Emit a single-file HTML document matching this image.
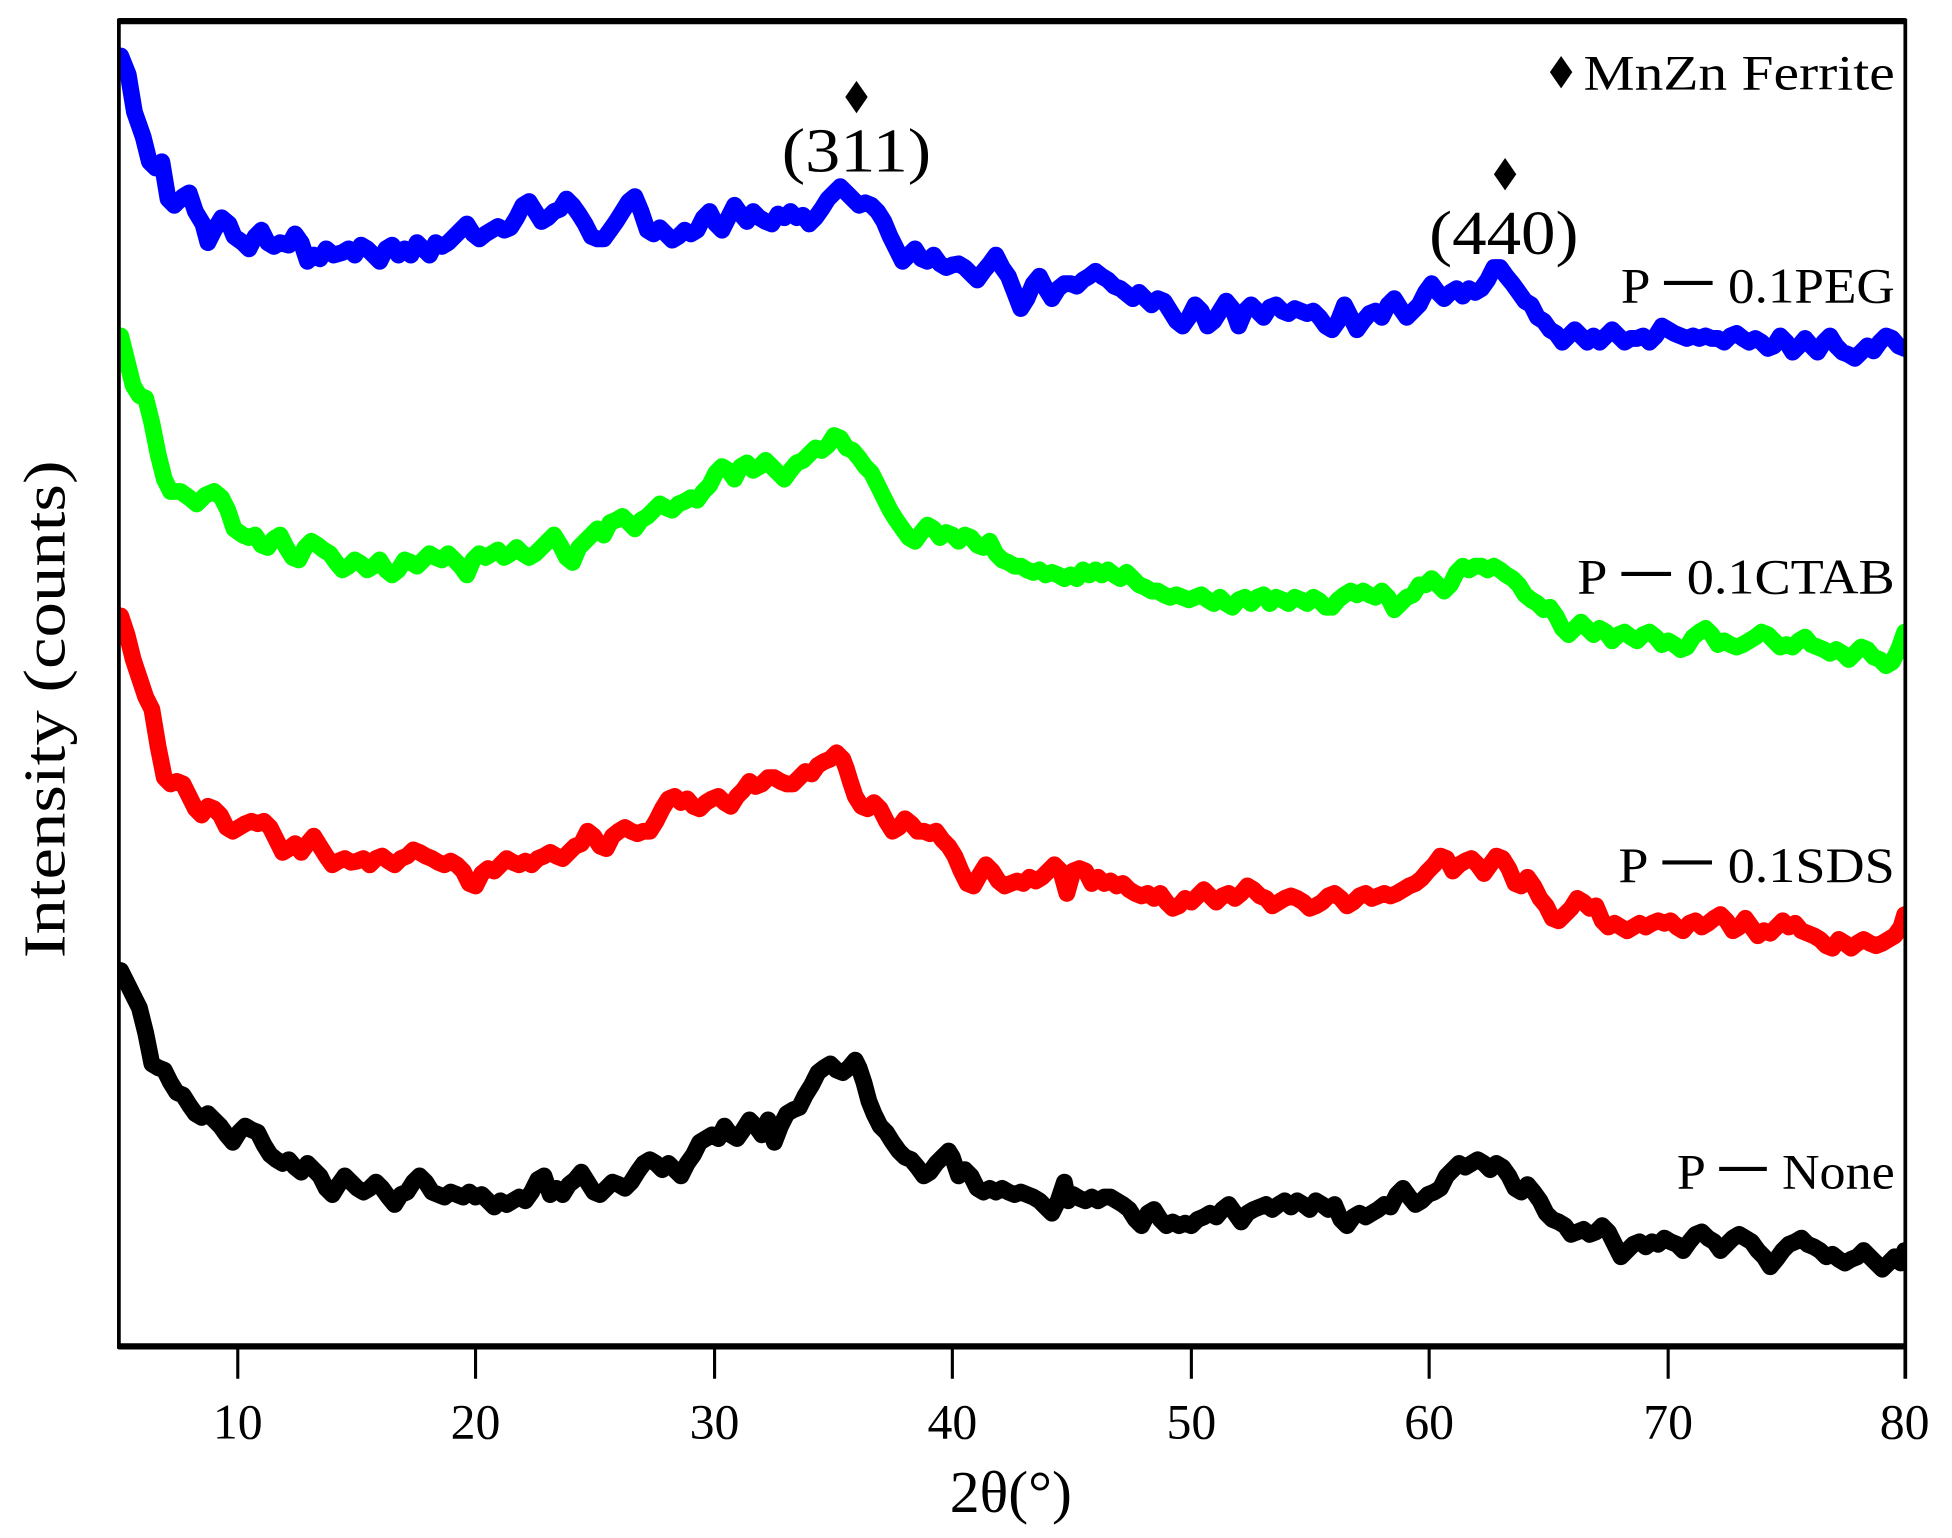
<!DOCTYPE html>
<html><head><meta charset="utf-8"><style>
html,body{margin:0;padding:0;background:#fff;}
svg{display:block;}
text{font-family:"Liberation Serif",serif;fill:#000;}
</style></head><body>
<svg width="1952" height="1538" viewBox="0 0 1568 1236" preserveAspectRatio="none" xmlns="http://www.w3.org/2000/svg">
<defs><clipPath id="c"><rect x="96" y="15" width="1434" height="1067"/></clipPath></defs>
<rect width="1568" height="1236" fill="#fff"/>
<g fill="none" stroke-width="13.5" stroke-linejoin="round" stroke-linecap="round" clip-path="url(#c)">
<polyline stroke="#0000ff" points="97,45 103,60 108,90 115,110 120,130 125,135 130,130 135,160 140,165 147,158 152,155 157,170 163,180 167,195 172,185 178,175 184,180 188,190 195,195 200,200 205,190 210,185 215,195 220,198 225,195 232,197 237,188 242,195 247,210 252,205 257,208 262,200 268,205 275,203 280,200 285,205 290,197 295,200 300,205 305,210 310,200 315,197 320,205 325,200 330,205 335,195 340,200 345,205 350,195 355,198 360,195 365,190 370,185 375,180 380,188 385,192 390,188 395,185 400,182 405,185 410,183 415,175 420,165 425,162 430,170 435,178 440,175 445,170 450,168 455,160 460,165 465,172 470,180 475,190 480,192 485,192 490,185 495,178 500,170 505,162 510,158 515,170 520,185 525,188 530,183 535,188 540,193 545,190 550,185 555,188 560,185 565,175 570,170 575,180 580,185 585,175 590,165 595,172 600,178 605,170 610,175 615,178 620,180 625,172 630,175 635,170 640,175 645,173 650,180 655,175 660,168 665,160 670,155 675,150 680,155 685,160 690,165 695,163 700,165 705,170 710,178 715,190 720,200 725,210 730,205 735,200 740,208 745,210 750,205 755,212 760,215 765,213 770,212 775,215 780,220 785,225 790,218 795,212 800,205 805,215 810,222 815,235 820,248 825,240 830,228 835,222 840,232 845,240 850,232 855,228 860,228 865,230 870,225 875,222 880,218 885,222 890,225 895,230 900,232 905,236 910,240 915,235 920,240 925,245 930,240 935,242 940,250 945,258 950,262 955,255 960,245 965,250 970,262 975,258 980,250 985,242 990,248 995,262 1000,250 1005,245 1010,250 1015,255 1020,247 1025,245 1030,250 1035,252 1040,248 1045,250 1050,252 1055,250 1060,255 1065,262 1070,265 1075,258 1080,245 1085,255 1090,265 1095,258 1100,252 1105,250 1110,255 1115,245 1120,240 1125,248 1130,255 1135,250 1140,245 1145,235 1150,228 1155,235 1160,240 1165,235 1170,232 1175,238 1180,232 1185,235 1190,232 1195,225 1200,215 1205,215 1210,222 1215,228 1220,235 1225,242 1230,245 1235,255 1240,258 1245,265 1250,268 1255,275 1260,270 1265,265 1270,270 1275,275 1280,270 1285,275 1290,270 1295,265 1300,270 1305,275 1310,272 1315,272 1320,270 1325,275 1330,270 1335,262 1340,265 1345,268 1350,270 1355,272 1360,270 1365,272 1370,270 1375,272 1380,272 1385,275 1390,270 1395,268 1400,272 1405,275 1410,272 1415,275 1420,280 1425,278 1430,270 1435,275 1440,283 1445,278 1450,272 1455,278 1460,283 1465,275 1470,270 1475,278 1480,283 1485,285 1490,288 1495,283 1500,278 1505,282 1510,275 1515,270 1520,272 1525,278 1530,280"/>
<polyline stroke="#00ff00" points="97,270 102,290 107,310 112,318 117,320 122,340 127,365 132,385 137,395 145,395 152,400 158,405 165,398 172,395 178,400 183,410 188,425 195,430 200,432 205,430 210,438 215,440 220,433 225,430 230,440 235,448 240,450 245,440 250,435 255,438 260,442 265,445 270,452 275,458 280,455 285,450 290,453 295,458 300,455 305,450 310,458 315,462 320,458 325,450 330,452 335,455 340,450 345,445 350,448 355,450 360,445 365,450 370,455 375,462 380,450 385,445 390,448 395,445 400,442 405,448 410,445 415,440 420,445 425,448 430,445 435,440 440,435 445,430 450,438 455,448 460,452 465,440 470,435 475,430 480,425 485,430 490,420 495,418 500,415 505,420 510,425 515,418 520,415 525,410 530,405 535,408 540,410 545,405 550,403 555,400 560,402 565,395 570,390 575,380 580,375 585,378 590,385 595,375 600,372 605,378 610,375 615,370 620,375 625,380 630,385 635,378 640,372 645,370 650,365 655,360 660,362 665,358 670,350 675,352 680,360 685,362 690,368 695,375 700,380 705,390 710,400 715,410 720,418 725,425 730,432 735,435 740,428 745,422 750,425 755,432 760,428 765,430 770,435 775,430 780,432 785,438 790,440 795,435 800,445 805,450 810,452 815,455 820,455 825,458 830,460 835,458 840,462 845,460 850,462 855,465 860,462 865,465 870,458 875,462 880,458 885,462 890,458 895,462 900,465 905,460 910,465 915,470 920,472 925,475 930,475 935,478 940,480 945,478 950,480 955,482 960,480 965,478 970,482 975,485 980,480 985,485 990,488 995,482 1000,480 1005,485 1010,480 1015,478 1020,485 1025,480 1030,482 1035,485 1040,480 1045,482 1050,485 1055,480 1060,483 1065,488 1070,488 1075,482 1080,478 1085,475 1090,478 1095,475 1100,478 1105,480 1110,475 1115,480 1120,490 1125,485 1130,480 1135,478 1140,470 1145,470 1150,465 1155,470 1160,475 1165,470 1170,460 1175,455 1180,458 1185,455 1190,455 1195,458 1200,455 1205,458 1210,462 1215,465 1220,470 1225,478 1230,482 1235,485 1240,490 1245,488 1250,495 1255,505 1260,510 1265,505 1270,500 1275,505 1280,510 1285,505 1290,508 1295,515 1300,510 1305,508 1310,512 1315,515 1320,510 1325,508 1330,512 1335,518 1340,515 1345,518 1350,522 1355,520 1360,512 1365,508 1370,505 1375,510 1380,518 1385,515 1390,518 1395,520 1400,518 1405,515 1410,512 1415,508 1420,510 1425,515 1430,520 1435,518 1440,520 1445,515 1450,512 1455,518 1460,520 1465,522 1470,525 1475,522 1480,525 1485,530 1490,525 1495,520 1500,522 1505,528 1510,530 1515,535 1520,532 1525,522 1530,508"/>
<polyline stroke="#ff0000" points="97,495 102,510 107,530 112,545 117,560 122,570 127,600 132,625 137,630 142,628 147,630 152,640 157,650 162,655 167,648 172,650 177,655 182,665 187,668 192,665 197,662 202,660 207,662 212,660 217,665 222,675 227,685 232,682 237,678 242,685 247,678 252,672 257,680 262,688 267,695 272,692 277,690 282,693 287,692 292,690 297,695 302,690 307,688 312,692 317,695 322,690 327,688 332,683 337,685 342,688 347,690 352,693 357,695 362,692 367,695 372,700 377,710 382,712 387,702 392,698 397,700 402,695 407,690 412,693 417,695 422,692 427,695 432,690 437,688 442,685 447,688 452,690 457,685 462,680 467,678 472,668 477,672 482,680 487,682 492,672 497,668 502,665 507,668 512,670 517,668 522,668 527,660 532,650 537,642 542,640 547,645 552,642 557,648 562,650 567,645 572,642 577,640 582,645 587,648 592,640 597,635 602,628 607,632 612,630 617,625 622,625 627,628 632,630 637,630 642,625 647,620 652,622 657,615 662,612 667,610 672,605 677,610 680,618 683,628 687,640 692,648 697,650 702,645 707,650 712,660 717,668 722,665 727,658 732,662 737,668 742,668 747,670 752,668 757,675 762,680 767,688 772,700 777,710 782,712 787,703 792,695 797,700 802,708 807,712 812,710 817,708 822,710 827,705 832,708 837,705 842,700 847,695 852,700 857,718 862,700 867,698 872,700 877,710 882,705 887,710 892,708 897,712 902,710 907,715 912,718 917,720 922,718 927,722 932,718 937,725 942,730 947,728 952,722 957,725 962,720 967,715 972,720 977,725 982,720 987,718 992,722 997,718 1002,712 1007,715 1012,720 1017,722 1022,728 1027,725 1032,722 1037,720 1042,722 1047,725 1052,730 1057,728 1062,725 1067,720 1072,718 1077,722 1082,728 1087,725 1092,720 1097,718 1102,722 1107,720 1112,718 1117,720 1122,718 1127,715 1132,712 1137,710 1142,706 1147,700 1152,695 1157,688 1162,690 1167,700 1172,695 1177,692 1182,690 1187,695 1192,702 1197,695 1202,688 1207,690 1212,698 1217,710 1222,712 1227,705 1232,712 1237,722 1242,728 1247,738 1252,740 1257,735 1262,730 1267,722 1272,725 1277,730 1282,728 1287,740 1292,745 1297,742 1302,745 1307,748 1312,745 1317,742 1322,745 1327,742 1332,740 1337,742 1342,740 1347,745 1352,748 1357,742 1362,740 1367,745 1372,742 1377,738 1382,735 1387,740 1392,748 1397,745 1402,738 1407,745 1412,752 1417,748 1422,750 1427,745 1432,740 1437,745 1442,742 1447,748 1452,750 1457,752 1462,755 1467,760 1472,762 1477,755 1482,758 1487,762 1492,758 1497,755 1502,758 1507,760 1512,758 1517,755 1522,752 1527,745 1530,735"/>
<polyline stroke="#000000" points="97,780 102,790 107,800 112,810 117,830 122,855 127,858 132,860 137,870 142,878 147,880 152,888 157,895 162,898 167,895 172,900 177,905 182,912 187,918 192,910 197,905 202,908 207,910 212,920 217,928 222,932 227,935 232,932 237,938 242,942 247,935 252,940 257,945 262,955 267,960 272,952 277,945 282,950 287,955 292,958 297,955 302,950 307,955 312,962 317,968 322,960 327,958 332,950 337,945 342,950 347,958 352,960 357,962 362,958 367,960 372,962 377,958 382,962 387,960 392,965 397,970 402,965 407,968 412,965 417,962 422,965 427,958 432,948 437,945 442,960 447,955 452,960 457,952 462,948 467,942 472,950 477,958 482,960 487,955 492,950 497,952 502,955 507,950 512,942 517,935 522,932 527,935 532,940 537,935 542,940 547,945 552,935 557,928 562,918 567,915 572,912 577,915 582,905 587,912 592,915 597,908 602,900 607,905 612,912 617,900 622,918 627,905 632,895 637,892 642,890 647,880 652,872 657,862 662,858 667,855 672,860 677,862 682,858 687,852 690,858 694,870 698,885 702,895 707,905 712,910 717,918 722,925 727,930 732,932 737,938 742,945 747,942 752,935 757,930 762,925 765,930 770,945 775,940 780,945 785,955 790,958 795,955 800,958 805,955 810,958 815,960 820,958 825,960 830,962 835,965 840,970 845,975 850,965 855,950 858,965 862,960 867,963 872,965 877,962 882,965 887,962 892,962 897,965 902,968 907,972 912,980 917,985 922,975 927,972 932,980 937,985 942,982 947,985 952,983 957,985 962,980 967,978 972,975 977,978 982,972 987,968 992,975 997,982 1002,975 1007,972 1012,970 1017,968 1022,972 1027,968 1032,965 1037,970 1042,965 1047,968 1052,972 1057,965 1062,968 1067,972 1072,968 1077,980 1082,985 1087,978 1092,975 1097,978 1102,975 1107,972 1112,968 1117,970 1122,960 1127,955 1132,962 1137,968 1142,965 1147,960 1152,958 1157,955 1162,945 1167,940 1172,935 1177,938 1182,935 1187,932 1192,935 1197,940 1202,935 1207,938 1212,945 1217,955 1222,958 1227,952 1232,958 1237,965 1242,975 1247,980 1252,982 1257,985 1262,992 1267,990 1272,988 1277,992 1282,990 1287,985 1292,990 1297,1000 1302,1010 1307,1005 1312,1000 1317,998 1322,1002 1327,998 1332,1000 1337,995 1342,998 1347,1000 1352,1005 1357,998 1362,992 1367,990 1372,995 1377,998 1382,1005 1387,1000 1392,995 1397,992 1402,995 1407,998 1412,1005 1417,1010 1422,1018 1427,1012 1432,1005 1437,1000 1442,998 1447,995 1452,1000 1457,1002 1462,1005 1467,1010 1472,1008 1477,1012 1482,1015 1487,1012 1492,1010 1497,1005 1502,1010 1507,1015 1512,1020 1517,1015 1522,1010 1527,1015 1530,1005"/>
</g>
<g stroke="#000" fill="none">
<line x1="95" y1="17" x2="1531" y2="17" stroke-width="5"/>
<line x1="95" y1="1082" x2="1531" y2="1082" stroke-width="5"/>
<line x1="95.5" y1="15" x2="95.5" y2="1084" stroke-width="3"/>
<line x1="1530.5" y1="15" x2="1530.5" y2="1108" stroke-width="3"/>
<path d="M191 1082V1108M382 1082V1108M574 1082V1108M765 1082V1108M957 1082V1108M1148 1082V1108M1340 1082V1108" stroke-width="2.5"/>
</g>
<g font-size="40" text-anchor="middle">
<text x="191" y="1156">10</text><text x="382" y="1156">20</text><text x="574" y="1156">30</text><text x="765" y="1156">40</text><text x="957" y="1156">50</text><text x="1148" y="1156">60</text><text x="1340" y="1156">70</text><text x="1530" y="1156">80</text>
</g>
<text x="812" y="1215" font-size="48" text-anchor="middle">2θ(°)</text>
<text transform="translate(52,570) rotate(-90)" font-size="48" text-anchor="middle" textLength="400" lengthAdjust="spacingAndGlyphs">Intensity (counts)</text>
<g font-size="40" text-anchor="end">
<text x="1522" y="72" textLength="250" lengthAdjust="spacingAndGlyphs">MnZn Ferrite</text>
<text x="1522" y="243" textLength="220" lengthAdjust="spacingAndGlyphs">P 一 0.1PEG</text>
<text x="1522" y="477" textLength="255" lengthAdjust="spacingAndGlyphs">P 一 0.1CTAB</text>
<text x="1522" y="709" textLength="222" lengthAdjust="spacingAndGlyphs">P 一 0.1SDS</text>
<text x="1522" y="955" textLength="175" lengthAdjust="spacingAndGlyphs">P 一 None</text>
</g>
<g fill="#000">
<path d="M1254 45 L1263 58 L1254 71 L1245 58Z"/>
<path d="M688 65 L697 78 L688 91 L679 78Z"/>
<path d="M1209 127 L1218 140 L1209 153 L1200 140Z"/>
</g>
<text x="688" y="138" font-size="50" text-anchor="middle" textLength="120" lengthAdjust="spacingAndGlyphs">(311)</text>
<text x="1208" y="204" font-size="50" text-anchor="middle" textLength="120" lengthAdjust="spacingAndGlyphs">(440)</text>
</svg>
</body></html>
